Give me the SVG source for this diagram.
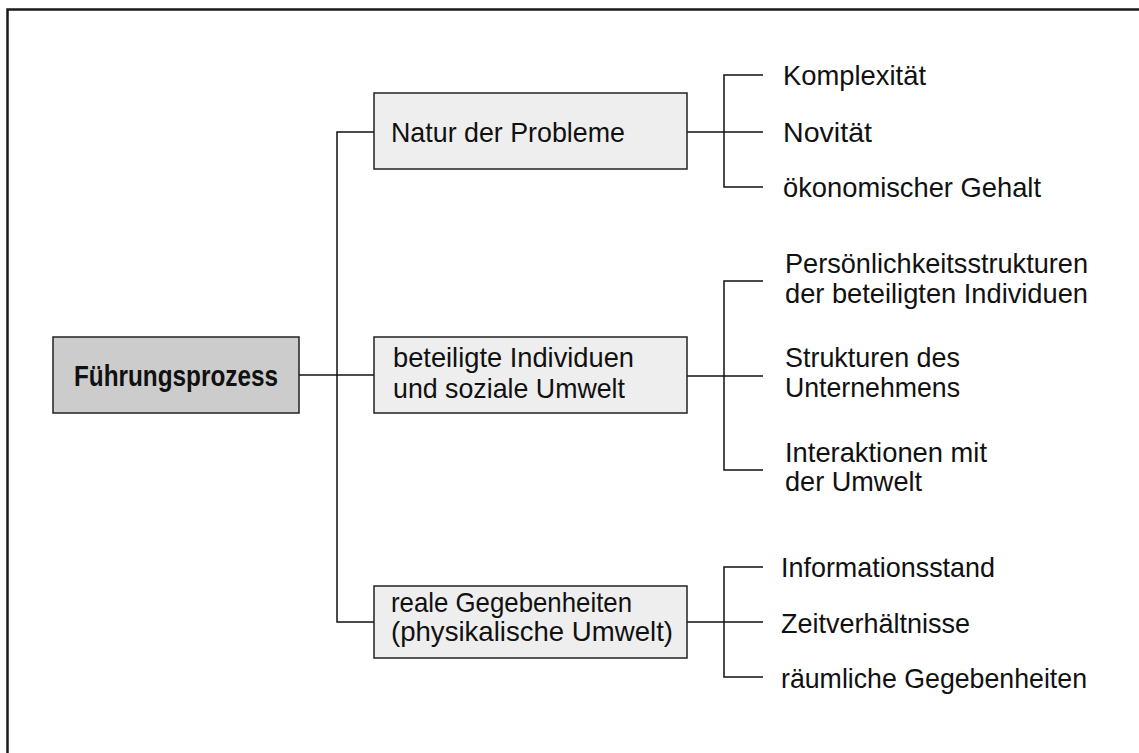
<svg xmlns="http://www.w3.org/2000/svg" width="1139" height="753" viewBox="0 0 1139 753">
  <style>
    .frame { fill: none; stroke: #1a1a1a; stroke-width: 2.5; }
    .box { fill: #eeeeee; stroke: #222; stroke-width: 1.5; }
    .root { fill: #cccccc; stroke: #222; stroke-width: 1.5; }
    .wire { fill: none; stroke: #111; stroke-width: 1.5; }
    text { font-family: "Liberation Sans", Arial, sans-serif; font-size: 28.5px; fill: #111; }
    .bold { font-weight: bold; font-size: 30px; }
  </style>

  <!-- open frame: top and left edges -->
  <path class="frame" d="M1139,9.5 H7.5 V753"/>

  <g id="connectors">
    <!-- trunk from the root -->
    <path class="wire" d="M299,375 H374"/>
    <path class="wire" d="M374,132 H337 V622 H374"/>
    <!-- branch 1 -->
    <path class="wire" d="M687,132 H763"/>
    <path class="wire" d="M763,75 H724 V187 H763"/>
    <!-- branch 2 -->
    <path class="wire" d="M687,376 H763"/>
    <path class="wire" d="M763,281 H724 V470 H763"/>
    <!-- branch 3 -->
    <path class="wire" d="M687,622 H763"/>
    <path class="wire" d="M763,567 H724 V677 H763"/>
  </g>

  <g id="fuehrungsprozess">
    <rect class="root" x="53" y="337" width="246" height="76"/>
    <text class="bold" x="74" y="386" textLength="204" lengthAdjust="spacingAndGlyphs">Führungsprozess</text>
  </g>

  <g id="natur">
    <rect class="box" x="374" y="93" width="313" height="76"/>
    <text x="391" y="142" textLength="234" lengthAdjust="spacingAndGlyphs">Natur der Probleme</text>
  </g>

  <g id="individuen">
    <rect class="box" x="374" y="337" width="313" height="76"/>
    <text x="393" y="367" textLength="241" lengthAdjust="spacingAndGlyphs">beteiligte Individuen</text>
    <text x="393" y="398" textLength="232" lengthAdjust="spacingAndGlyphs">und soziale Umwelt</text>
  </g>

  <g id="gegebenheiten">
    <rect class="box" x="374" y="586" width="313" height="72"/>
    <text x="391" y="612" textLength="241" lengthAdjust="spacingAndGlyphs">reale Gegebenheiten</text>
    <text x="391" y="641" textLength="282" lengthAdjust="spacingAndGlyphs">(physikalische Umwelt)</text>
  </g>

  <g id="komplexitaet">
    <text x="783" y="85" textLength="143" lengthAdjust="spacingAndGlyphs">Komplexität</text>
  </g>
  <g id="novitaet">
    <text x="783" y="142" textLength="89" lengthAdjust="spacingAndGlyphs">Novität</text>
  </g>
  <g id="gehalt">
    <text x="783" y="197" textLength="258" lengthAdjust="spacingAndGlyphs">ökonomischer Gehalt</text>
  </g>

  <g id="persoenlichkeit">
    <text x="785" y="273" textLength="303" lengthAdjust="spacingAndGlyphs">Persönlichkeitsstrukturen</text>
    <text x="785" y="303" textLength="303" lengthAdjust="spacingAndGlyphs">der beteiligten Individuen</text>
  </g>
  <g id="strukturen">
    <text x="785" y="367" textLength="175" lengthAdjust="spacingAndGlyphs">Strukturen des</text>
    <text x="785" y="397" textLength="175" lengthAdjust="spacingAndGlyphs">Unternehmens</text>
  </g>
  <g id="interaktionen">
    <text x="785" y="462" textLength="202" lengthAdjust="spacingAndGlyphs">Interaktionen mit</text>
    <text x="785" y="491" textLength="137" lengthAdjust="spacingAndGlyphs">der Umwelt</text>
  </g>

  <g id="informationsstand">
    <text x="781" y="577" textLength="214" lengthAdjust="spacingAndGlyphs">Informationsstand</text>
  </g>
  <g id="zeit">
    <text x="781" y="633" textLength="189" lengthAdjust="spacingAndGlyphs">Zeitverhältnisse</text>
  </g>
  <g id="raeumlich">
    <text x="781" y="688" textLength="306" lengthAdjust="spacingAndGlyphs">räumliche Gegebenheiten</text>
  </g>
</svg>
